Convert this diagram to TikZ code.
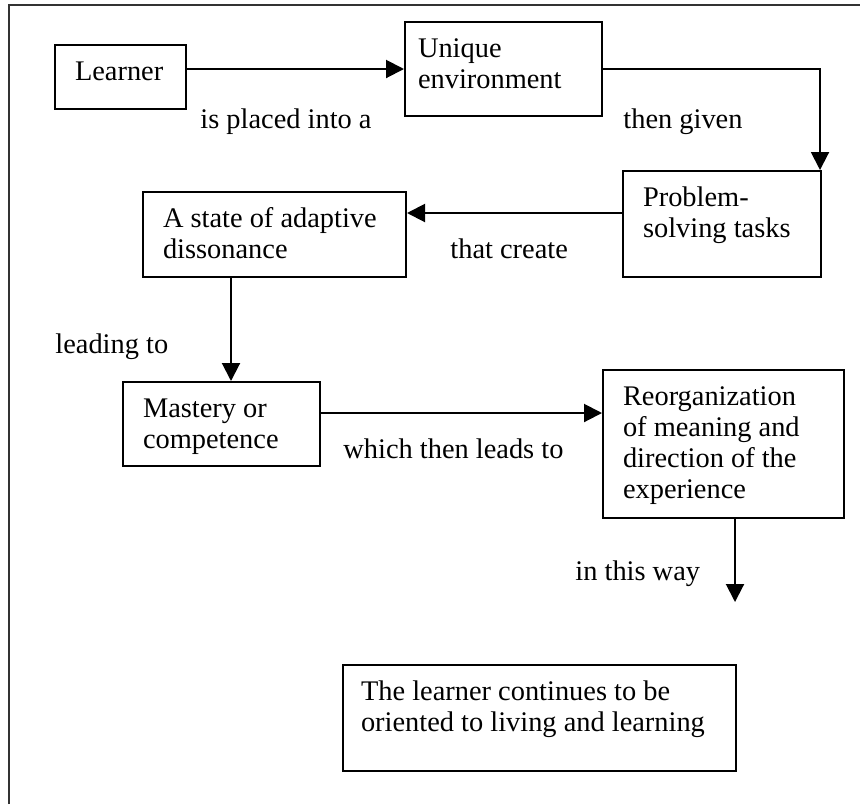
\documentclass[tikz,border=0pt]{standalone}
\usepackage{fontspec}
\setmainfont{Liberation Serif}
\usetikzlibrary{arrows.meta}

\tikzset{
	stage/.style={draw, line width=1pt, anchor=north west, align=flush left,
		inner xsep=10pt, inner ysep=0pt, text height=17.5pt},
	linktext/.style={anchor=base west, inner sep=0pt},
	flow/.style={line width=1pt, -{Triangle[length=9pt,width=9pt]}}
}

\begin{document}
\begin{tikzpicture}[x=0.5pt,y=-0.5pt,font=\fontsize{14.2}{15.5}\selectfont]
		\useasboundingbox (0,0) rectangle (860,804);
		\draw[line width=0.8pt,black!80] (9,804) -- (9,5) -- (860,5);
		% the stages
		\node[stage,text width=45.5pt,text depth=14.5pt] (learner) at (54,44) {Learner};
		\node[stage,inner xsep=6.5pt,text width=85.5pt,text depth=29.5pt] (env) at (404,21) {Unique\\environment};
		\node[stage,text width=79pt,text depth=35.5pt] (tasks) at (622,170) {Problem-\\solving tasks};
		\node[stage,text width=111.5pt,text depth=25pt] (state) at (142,191) {A state of adaptive\\dissonance};
		\node[stage,text width=78.5pt,text depth=24.5pt] (mastery) at (122,381) {Mastery or\\competence};
		\node[stage,text width=100.5pt,text depth=56.5pt] (reorg) at (602,369) {Reorganization\\of meaning and\\direction of the\\experience};
		\node[stage,inner xsep=9pt,text width=178.5pt,text depth=35.5pt] (oriented) at (342,664) {The learner continues to be\\oriented to living and learning};
		% the links
		\node[linktext] (placed) at (200,128) {is placed into a};
		\node[linktext] (given) at (623,128) {then given};
		\node[linktext] (create) at (450,258) {that create};
		\node[linktext] (leading) at (55,353) {leading to};
		\node[linktext] (leads) at (343,458) {which then leads to};
		\node[linktext] (inway) at (575,580) {in this way};
		\coordinate (tc) at ([yshift=5.5pt]tasks.west);
		\coordinate (mc) at ([xshift=4.75pt]mastery.north);
		\coordinate (rc) at ([yshift=5.5pt]mastery.east);
		\coordinate (wayend) at ([xshift=5.75pt,yshift=-41.5pt]reorg.south);
		\draw[flow] (learner.east |- env.west) -- (env.west);
		\draw[flow] (env.east) -| ([xshift=-1pt]tasks.north east);
		\draw[flow] (tc) -- (tc -| state.east);
		\draw[flow] (mc |- state.south) -- (mc);
		\draw[flow] (rc) -- (rc -| reorg.west);
		\draw[flow] (reorg.south -| wayend) -- (wayend);
	\end{tikzpicture}
\end{document}
